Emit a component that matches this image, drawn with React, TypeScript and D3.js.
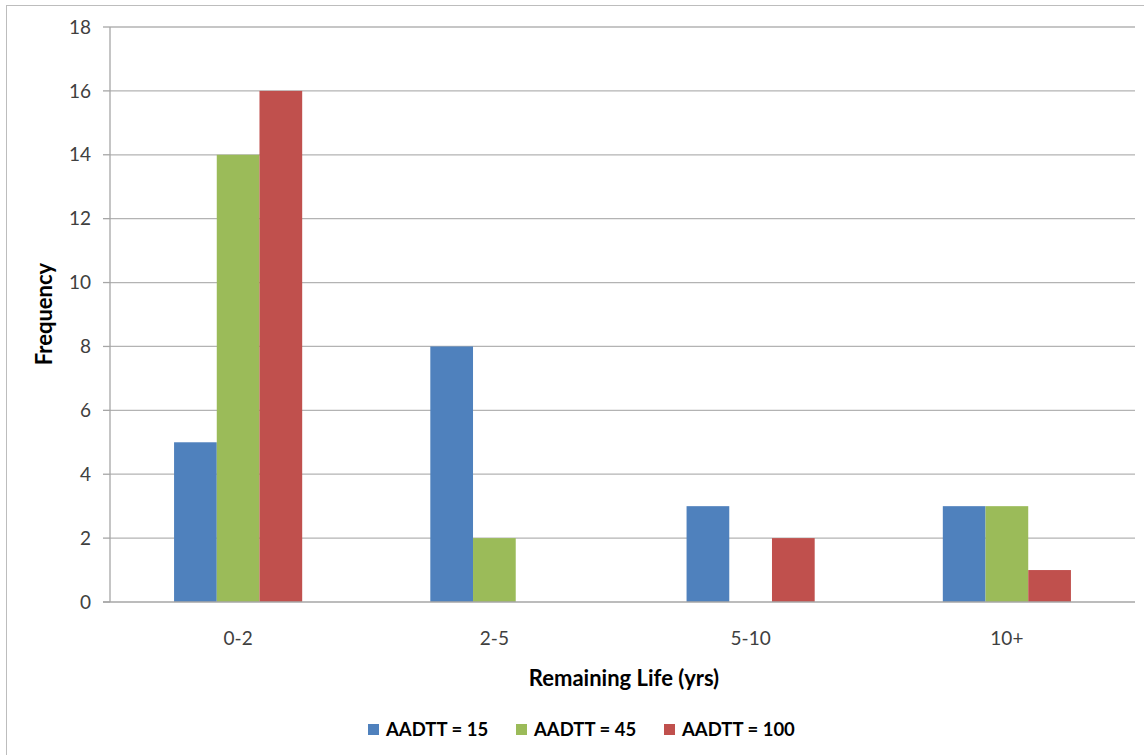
import React from "react";
import * as d3 from "d3";

const categories = ["0-2", "2-5", "5-10", "10+"];
const seriesNames = ["AADTT = 15", "AADTT = 45", "AADTT = 100"];
const aadtt15 = [5, 8, 3, 3];
const aadtt45 = [14, 2, 0, 3];
const aadtt100 = [16, 0, 2, 1];
const yTicks = [0, 2, 4, 6, 8, 10, 12, 14, 16, 18];
const colors = ["#4F81BD", "#9BBB59", "#C0504D"];

export default function App() {
  const W = 1144, H = 755;
  const left = 110, right = 1135, top = 27, bottom = 602;
  const series = [aadtt15, aadtt45, aadtt100];
  const x = d3.scaleBand<string>().domain(categories).range([left, right]).paddingInner(0).paddingOuter(0);
  const y = d3.scaleLinear().domain([0, 18]).range([bottom, top]);
  const groupW = x.bandwidth() * 0.5;
  const x1 = d3.scaleBand<number>().domain([0, 1, 2]).range([0, groupW]);
  const font = "Lato, 'Open Sans', sans-serif";
  const legendX = [368, 516, 664];
  return (
    <div style={{ position: "absolute", left: 0, top: 0 }}>
      <svg width={W} height={H} style={{ display: "block", background: "#fff" }}>
        <rect x={6.5} y={5.5} width={W + 10} height={H + 10} fill="#fff" stroke="#BDBDBD" strokeWidth={1} />
        {yTicks.map((t) => (
          <g key={t}>
            {t > 0 && <line x1={left} x2={right} y1={y(t)} y2={y(t)} stroke="#B3B3B3" strokeWidth={1.3} />}
            <line x1={left - 7} x2={left} y1={y(t)} y2={y(t)} stroke="#A6A6A6" strokeWidth={1.3} />
            <text x={91} y={y(t)} dy="0.35em" textAnchor="end" fontFamily={font} fontSize={19} fill="#404040">{t}</text>
          </g>
        ))}
        {categories.map((c, i) =>
          series.map((s, j) => {
            const v = s[i];
            if (!v) return null;
            const bx = (x(c) as number) + (x.bandwidth() - groupW) / 2 + (x1(j) as number);
            return <rect key={c + j} x={bx} y={y(v)} width={x1.bandwidth()} height={y(0) - y(v)} fill={colors[j]} />;
          })
        )}
        <line x1={left} x2={left} y1={top} y2={bottom} stroke="#A6A6A6" strokeWidth={1.3} />
        <line x1={left - 7} x2={right} y1={bottom} y2={bottom} stroke="#A6A6A6" strokeWidth={1.3} />
        {categories.map((c) => (
          <text key={c} x={(x(c) as number) + x.bandwidth() / 2} y={638} dy="0.35em" textAnchor="middle" fontFamily={font} fontSize={19} fill="#404040">{c}</text>
        ))}
        <text x={624} y={678} dy="0.35em" textAnchor="middle" fontFamily={font} fontSize={22} fontWeight="bold" fill="#000">Remaining Life (yrs)</text>
        <text transform={`translate(44,314) rotate(-90)`} dy="0.35em" textAnchor="middle" fontFamily={font} fontSize={22} fontWeight="bold" fill="#000">Frequency</text>
        {seriesNames.map((n, j) => (
          <g key={n}>
            <rect x={legendX[j]} y={724} width={11} height={11} fill={colors[j]} />
            <text x={legendX[j] + 18} y={730} dy="0.35em" fontFamily={font} fontSize={18.5} fontWeight="bold" fill="#000">{n}</text>
          </g>
        ))}
      </svg>
    </div>
  );
}
